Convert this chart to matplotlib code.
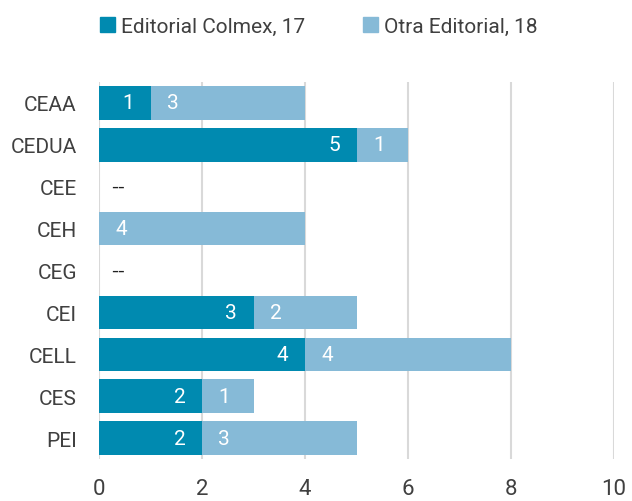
import matplotlib
matplotlib.use("Agg")
import matplotlib.pyplot as plt
from matplotlib.patches import Patch

# Publicaciones por centro y tipo de editorial
centros = ["CEAA", "CEDUA", "CEE", "CEH", "CEG", "CEI", "CELL", "CES", "PEI"]
colmex = [1, 5, 0, 0, 0, 3, 4, 2, 2]
otra = [3, 1, 0, 4, 0, 2, 4, 1, 3]
xticks = [0, 2, 4, 6, 8, 10]

c_colmex = "#008AB0"
c_otra = "#86BAD7"
c_text = "#404040"

plt.rcParams["font.family"] = ["Roboto", "DejaVu Sans"]
fs = 15

fig = plt.figure(figsize=(6.32, 5.02), dpi=100)
ax = fig.add_axes([99 / 632, 42 / 502, 515 / 632, 377 / 502])

y = list(range(len(centros)))
ax.barh(y, colmex, height=0.8, color=c_colmex, zorder=2)
ax.barh(y, otra, left=colmex, height=0.8, color=c_otra, zorder=2)

for i in y:
    a, b = colmex[i], otra[i]
    if a == 0 and b == 0:
        # centros sin publicaciones
        ax.annotate("--", (0, i), xytext=(13.5, 0), textcoords="offset points",
                    ha="center", va="center", fontsize=15, color="#202020",
                    family=["Liberation Sans", "DejaVu Sans"])
        continue
    if a > 0:
        ax.annotate(str(a), (a, i), xytext=(-16, 0), textcoords="offset points",
                    ha="center", va="center", fontsize=fs, color="white", zorder=3)
    if b > 0:
        ax.annotate(str(b), (a, i), xytext=(16, 0), textcoords="offset points",
                    ha="center", va="center", fontsize=fs, color="white", zorder=3)

ax.set_xlim(0, 10)
ax.set_ylim(len(centros) - 0.5, -0.5)
ax.set_yticks(y)
ax.set_yticklabels(centros)
ax.set_xticks(xticks)
ax.tick_params(axis="both", length=0, labelsize=fs, colors=c_text)
ax.tick_params(axis="y", pad=16)
ax.tick_params(axis="x", pad=14, labelsize=16)
ax.grid(axis="x", color="#D9D9D9", linewidth=1.5, zorder=0)
for s in ax.spines.values():
    s.set_visible(False)

handles = [Patch(color=c_colmex, label="Editorial Colmex, %d" % sum(colmex)),
           Patch(color=c_otra, label="Otra Editorial, %d" % sum(otra))]
fig.legend(handles=handles, loc="center", bbox_to_anchor=(319 / 632, 1 - 27 / 502),
           ncol=2, frameon=False, fontsize=fs, handlelength=0.7, handleheight=0.7,
           handletextpad=0.3, columnspacing=2.8, labelcolor=c_text)

fig.savefig("out.png", dpi=100)
